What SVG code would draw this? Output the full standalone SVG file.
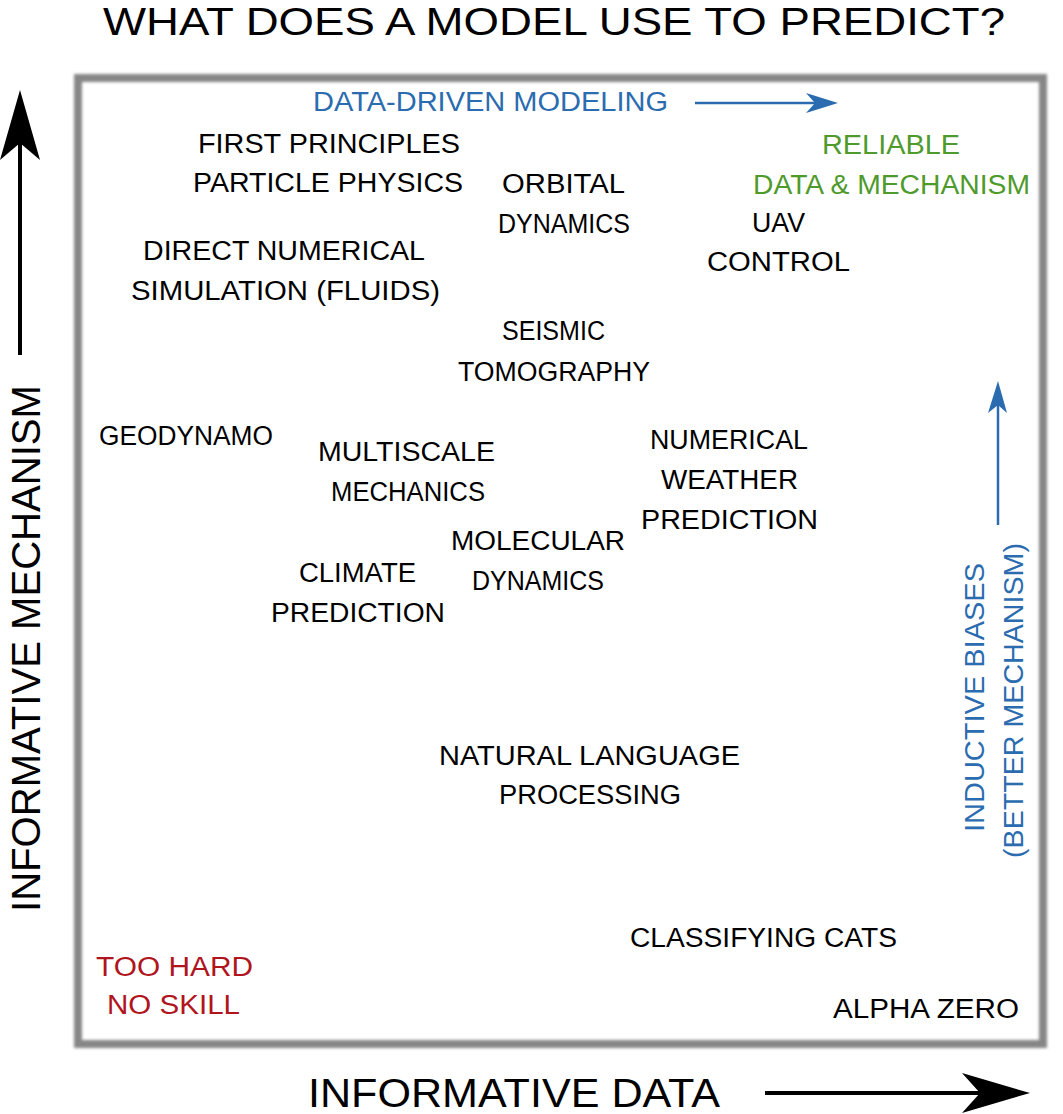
<svg xmlns="http://www.w3.org/2000/svg" width="1063" height="1114" viewBox="0 0 1063 1114">
<defs>
<filter id="blur" x="-5%" y="-5%" width="110%" height="110%"><feGaussianBlur stdDeviation="1.6"/></filter>
</defs>
<style>
text{font-family:"Liberation Sans","DejaVu Sans",sans-serif;font-size:27px;fill:#000;}
.t{font-size:39px;}
.ax{font-size:41px;}
.blue{fill:#2b6cb0;}
.green{fill:#4f9a2c;}
.red{fill:#b0141c;}
.k{stroke:#000;stroke-width:4;fill:none;}
.b{stroke:#2b6cb0;stroke-width:2.5;fill:none;}
</style>
<rect width="1063" height="1114" fill="#fff"/>
<g id="frame">
<rect x="78" y="78" width="965" height="966" fill="none" stroke="#868686" stroke-width="8" filter="url(#blur)"/>
</g>
<g id="title"><text class="t" x="103" y="35" textLength="902" lengthAdjust="spacingAndGlyphs">WHAT DOES A MODEL USE TO PREDICT?</text></g>
<g id="connectors">
<line class="k" x1="20" y1="355" x2="20" y2="140"/>
<path d="M20,90 L40,160 L20,143 L0,160 Z" fill="#000"/>
<line class="k" x1="765" y1="1093" x2="985" y2="1093"/>
<path d="M1030,1093 L962,1073 L980,1093 L962,1113 Z" fill="#000"/>
<line class="b" x1="695" y1="103" x2="816" y2="103"/>
<path d="M838,103 L806,93 L815,103 L806,113 Z" fill="#2b6cb0"/>
<line class="b" x1="998" y1="525" x2="998" y2="404"/>
<path d="M998,381 L988,413 L998,405 L1007,413 Z" fill="#2b6cb0"/>
</g>
<g id="axis-labels">
<text class="ax" x="308" y="1107" textLength="412" lengthAdjust="spacingAndGlyphs">INFORMATIVE DATA</text>
<text class="ax" transform="translate(40,912) rotate(-90)" textLength="527" lengthAdjust="spacingAndGlyphs">INFORMATIVE MECHANISM</text>
</g>
<g id="data-driven"><text class="blue" x="313" y="111" textLength="355" lengthAdjust="spacingAndGlyphs">DATA-DRIVEN MODELING</text></g>
<g id="inductive-biases">
<text class="blue" transform="translate(984,832) rotate(-90)" textLength="269" lengthAdjust="spacingAndGlyphs">INDUCTIVE BIASES</text>
<text class="blue" transform="translate(1023,858) rotate(-90)" textLength="315" lengthAdjust="spacingAndGlyphs">(BETTER MECHANISM)</text>
</g>
<g id="first-principles">
<text x="198" y="153" textLength="262" lengthAdjust="spacingAndGlyphs">FIRST PRINCIPLES</text>
<text x="193" y="192" textLength="270" lengthAdjust="spacingAndGlyphs">PARTICLE PHYSICS</text>
</g>
<g id="orbital-dynamics">
<text x="502" y="193" textLength="123" lengthAdjust="spacingAndGlyphs">ORBITAL</text>
<text x="498" y="233" textLength="132" lengthAdjust="spacingAndGlyphs">DYNAMICS</text>
</g>
<g id="reliable">
<text class="green" x="822" y="154" textLength="138" lengthAdjust="spacingAndGlyphs">RELIABLE</text>
<text class="green" x="753" y="194" textLength="277" lengthAdjust="spacingAndGlyphs">DATA &amp; MECHANISM</text>
</g>
<g id="uav-control">
<text x="752" y="232" textLength="53" lengthAdjust="spacingAndGlyphs">UAV</text>
<text x="707" y="271" textLength="143" lengthAdjust="spacingAndGlyphs">CONTROL</text>
</g>
<g id="dns">
<text x="143" y="260" textLength="282" lengthAdjust="spacingAndGlyphs">DIRECT NUMERICAL</text>
<text x="131" y="300" textLength="309" lengthAdjust="spacingAndGlyphs">SIMULATION (FLUIDS)</text>
</g>
<g id="seismic">
<text x="502" y="340" textLength="103" lengthAdjust="spacingAndGlyphs">SEISMIC</text>
<text x="458" y="381" textLength="192" lengthAdjust="spacingAndGlyphs">TOMOGRAPHY</text>
</g>
<g id="geodynamo"><text x="99" y="445" textLength="174" lengthAdjust="spacingAndGlyphs">GEODYNAMO</text></g>
<g id="multiscale">
<text x="318" y="461" textLength="177" lengthAdjust="spacingAndGlyphs">MULTISCALE</text>
<text x="331" y="501" textLength="154" lengthAdjust="spacingAndGlyphs">MECHANICS</text>
</g>
<g id="nwp">
<text x="650" y="449" textLength="158" lengthAdjust="spacingAndGlyphs">NUMERICAL</text>
<text x="661" y="489" textLength="137" lengthAdjust="spacingAndGlyphs">WEATHER</text>
<text x="641" y="529" textLength="177" lengthAdjust="spacingAndGlyphs">PREDICTION</text>
</g>
<g id="molecular">
<text x="451" y="550" textLength="174" lengthAdjust="spacingAndGlyphs">MOLECULAR</text>
<text x="472" y="590" textLength="132" lengthAdjust="spacingAndGlyphs">DYNAMICS</text>
</g>
<g id="climate">
<text x="299" y="582" textLength="117" lengthAdjust="spacingAndGlyphs">CLIMATE</text>
<text x="271" y="622" textLength="174" lengthAdjust="spacingAndGlyphs">PREDICTION</text>
</g>
<g id="nlp">
<text x="439" y="765" textLength="301" lengthAdjust="spacingAndGlyphs">NATURAL LANGUAGE</text>
<text x="499" y="804" textLength="182" lengthAdjust="spacingAndGlyphs">PROCESSING</text>
</g>
<g id="cats"><text x="630" y="947" textLength="267" lengthAdjust="spacingAndGlyphs">CLASSIFYING CATS</text></g>
<g id="too-hard">
<text class="red" x="96" y="976" textLength="157" lengthAdjust="spacingAndGlyphs">TOO HARD</text>
<text class="red" x="107" y="1014" textLength="133" lengthAdjust="spacingAndGlyphs">NO SKILL</text>
</g>
<g id="alpha-zero"><text x="833" y="1018" textLength="186" lengthAdjust="spacingAndGlyphs">ALPHA ZERO</text></g>
</svg>
